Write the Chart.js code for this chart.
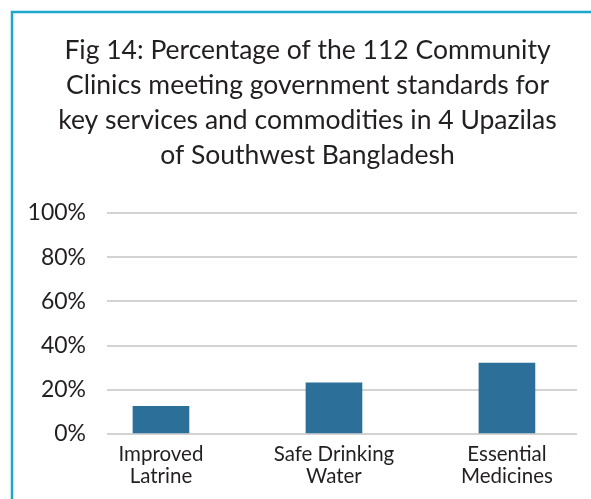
<!DOCTYPE html>
<html>
<head>
<meta charset="utf-8">
<script src="https://cdn.jsdelivr.net/npm/chart.js@4"></script>
<style>
  html, body { margin: 0; padding: 0; background: #fff; }
  #wrap { position: relative; width: 591px; height: 499px; }
</style>
</head>
<body>
<div id="wrap"><canvas id="chart" width="591" height="499"></canvas></div>
<script>
// Chart data
const titleLines = [
    'Fig 14: Percentage of the 112 Community',
    'Clinics meeting government standards for',
    'key services and commodities in 4 Upazilas',
    'of Southwest Bangladesh'
];
const categories = [
    ['Improved', 'Latrine'],
    ['Safe Drinking', 'Water'],
    ['Essential', 'Medicines']
];
const percentMet = [12.5, 23.2, 32.1];
const yTicks = [0, 20, 40, 60, 80, 100];

const TEXT_COLOR = '#231f20';
const BAR_COLOR = '#2c7099';
const GRID_COLOR = '#d3d3d3';
const FRAME_COLOR = '#1aa9cc';

// white background + cyan frame (top and left edges)
const framePlugin = {
    id: 'frame',
    beforeDraw(chart) {
        const ctx = chart.ctx;
        ctx.save();
        ctx.fillStyle = '#fff';
        ctx.fillRect(0, 0, chart.width, chart.height);
        ctx.strokeStyle = FRAME_COLOR;
        ctx.lineWidth = 2.5;
        ctx.beginPath();
        ctx.moveTo(12, chart.height);
        ctx.lineTo(12, 12);
        ctx.lineTo(chart.width, 12);
        ctx.stroke();
        ctx.restore();
    }
};

Chart.defaults.font.family = 'Lato, "Open Sans", sans-serif';
Chart.defaults.color = TEXT_COLOR;

new Chart(document.getElementById('chart'), {
    type: 'bar',
    data: {
        datasets: [{
            data: percentMet.map((v, i) => ({ x: i, y: v })),
            backgroundColor: BAR_COLOR,
            borderWidth: 0,
            barThickness: 56
        }]
    },
    options: {
        responsive: false,
        animation: false,
        layout: { padding: { left: 24, right: 0, top: 0, bottom: 0 } },
        plugins: {
            legend: { display: false },
            tooltip: { enabled: false },
            title: {
                display: true,
                text: titleLines,
                color: TEXT_COLOR,
                font: { size: 26.5, weight: 'normal', lineHeight: 1.32 },
                padding: { top: 33, bottom: 40 }
            }
        },
        scales: {
            x: {
                type: 'linear',
                offset: false,
                min: -0.312,
                max: 2.405,
                grid: { display: false, drawTicks: false },
                border: { display: false },
                afterBuildTicks(scale) {
                    scale.ticks = categories.map((c, i) => ({ value: i }));
                },
                afterFit(scale) { scale.height = 65; },
                ticks: {
                    color: TEXT_COLOR,
                    font: { size: 20.5, lineHeight: 1.1 },
                    padding: 9,
                    maxRotation: 0,
                    autoSkip: false,
                    callback: (v) => categories[v]
                }
            },
            y: {
                min: 0,
                max: 100,
                border: { display: false },
                grid: { color: GRID_COLOR, lineWidth: 2, drawTicks: false },
                afterBuildTicks(scale) {
                    scale.ticks = yTicks.map(v => ({ value: v }));
                },
                afterFit(scale) { scale.width = 83; },
                ticks: {
                    color: TEXT_COLOR,
                    font: { size: 23 },
                    padding: 21,
                    callback: (v) => v + '%'
                }
            },
            // empty right-hand axis, only reserves the margin right of the plot
            spacer: {
                type: 'linear',
                position: 'right',
                grid: { display: false, drawTicks: false },
                border: { display: false },
                ticks: { display: false },
                afterFit(scale) { scale.width = 14; }
            }
        }
    },
    plugins: [framePlugin]
});
</script>
</body>
</html>
